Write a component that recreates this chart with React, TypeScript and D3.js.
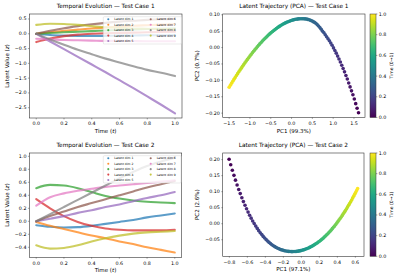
import React from "react";
import * as d3 from "d3";

const W = 400;
const H = 279;
const FONT = "'DejaVu Sans', sans-serif";
const TAB10 = ["#1f77b4", "#ff7f0e", "#2ca02c", "#d62728", "#9467bd", "#8c564b", "#e377c2", "#7f7f7f", "#bcbd22"];
const DIM_LABELS = ["Latent dim 1", "Latent dim 2", "Latent dim 3", "Latent dim 4", "Latent dim 5", "Latent dim 6", "Latent dim 7", "Latent dim 8", "Latent dim 9"];

// ---- time samples of latent curves ----
const TIME_STEPS = [0, 0.1, 0.2, 0.3, 0.4, 0.5, 0.6, 0.7, 0.8, 0.9, 1.0];

// ---- Test case 1 latent dims ----
const TC1_DIM1 = [0, -0.04, -0.06, -0.07, -0.07, -0.07, -0.06, -0.06, -0.05, -0.05, -0.04];
const TC1_DIM2 = [0, 0.05, 0.1, 0.14, 0.18, 0.21, 0.24, 0.27, 0.29, 0.31, 0.32];
const TC1_DIM3 = [0, 0.025, 0.05, 0.07, 0.09, 0.11, 0.13, 0.15, 0.16, 0.17, 0.18];
const TC1_DIM4 = [-0.28, -0.16, -0.08, -0.03, 0.0, 0.02, 0.03, 0.04, 0.05, 0.06, 0.07];
const TC1_DIM5 = [0, -0.26, -0.52, -0.78, -1.04, -1.3, -1.57, -1.84, -2.12, -2.4, -2.69];
const TC1_DIM6 = [0, 0.1, 0.19, 0.26, 0.32, 0.37, 0.41, 0.44, 0.47, 0.49, 0.5];
const TC1_DIM7 = [-0.17, -0.19, -0.21, -0.22, -0.23, -0.24, -0.24, -0.245, -0.25, -0.25, -0.25];
const TC1_DIM8 = [0, -0.19, -0.37, -0.54, -0.69, -0.84, -0.97, -1.1, -1.22, -1.32, -1.43];
const TC1_DIM9 = [0.3, 0.34, 0.33, 0.3, 0.26, 0.22, 0.2, 0.18, 0.17, 0.16, 0.15];

// ---- Test case 2 latent dims ----
const TC2_DIM1 = [-0.06, -0.085, -0.095, -0.09, -0.07, -0.04, -0.01, 0.02, 0.06, 0.09, 0.12];
const TC2_DIM2 = [-0.01, -0.07, -0.12, -0.17, -0.22, -0.26, -0.31, -0.35, -0.4, -0.44, -0.48];
const TC2_DIM3 = [0.51, 0.56, 0.55, 0.51, 0.45, 0.39, 0.35, 0.32, 0.3, 0.29, 0.28];
const TC2_DIM4 = [0.34, 0.2, 0.08, -0.01, -0.07, -0.11, -0.13, -0.14, -0.14, -0.14, -0.13];
const TC2_DIM5 = [0, 0.04, 0.08, 0.13, 0.17, 0.22, 0.26, 0.31, 0.36, 0.4, 0.45];
const TC2_DIM6 = [0, 0.08, 0.15, 0.22, 0.28, 0.34, 0.4, 0.46, 0.52, 0.57, 0.62];
const TC2_DIM7 = [0.24, 0.37, 0.43, 0.47, 0.5, 0.53, 0.55, 0.57, 0.59, 0.61, 0.63];
const TC2_DIM8 = [0, 0.11, 0.22, 0.33, 0.44, 0.55, 0.66, 0.76, 0.85, 0.92, 0.98];
const TC2_DIM9 = [-0.37, -0.42, -0.41, -0.37, -0.31, -0.26, -0.22, -0.19, -0.17, -0.16, -0.15];

// ---- PCA trajectories (100 samples, t from 0 to 1) ----
const TC1_PC1 = [
  1.61, 1.576, 1.542, 1.509, 1.475, 1.441, 1.407, 1.374, 1.34, 1.307,
  1.273, 1.24, 1.207, 1.173, 1.14, 1.107, 1.074, 1.041, 1.008, 0.975,
  0.942, 0.909, 0.876, 0.843, 0.81, 0.778, 0.745, 0.713, 0.68, 0.648,
  0.615, 0.583, 0.55, 0.518, 0.486, 0.454, 0.422, 0.389, 0.357, 0.325,
  0.294, 0.262, 0.23, 0.198, 0.166, 0.135, 0.103, 0.072, 0.04, 0.009,
  -0.023, -0.054, -0.086, -0.117, -0.148, -0.179, -0.21, -0.241, -0.272, -0.303,
  -0.334, -0.365, -0.396, -0.427, -0.457, -0.488, -0.519, -0.549, -0.58, -0.61,
  -0.641, -0.671, -0.701, -0.731, -0.762, -0.792, -0.822, -0.852, -0.882, -0.912,
  -0.942, -0.972, -1.001, -1.031, -1.061, -1.09, -1.12, -1.15, -1.179, -1.208,
  -1.238, -1.267, -1.297, -1.326, -1.355, -1.384, -1.413, -1.442, -1.471, -1.5,
];
const TC1_PC2 = [
  -0.199, -0.185, -0.171, -0.157, -0.144, -0.132, -0.12, -0.108, -0.096, -0.085,
  -0.074, -0.064, -0.054, -0.044, -0.035, -0.026, -0.017, -0.009, -0.001, 0.007,
  0.014, 0.021, 0.027, 0.033, 0.039, 0.045, 0.05, 0.056, 0.061, 0.066,
  0.07, 0.074, 0.077, 0.079, 0.082, 0.083, 0.085, 0.086, 0.087, 0.0875,
  0.088, 0.088, 0.088, 0.0878, 0.0874, 0.0869, 0.0862, 0.0854, 0.0844, 0.0832,
  0.0819, 0.0805, 0.0789, 0.0771, 0.0752, 0.0732, 0.071, 0.0687, 0.0663, 0.0638,
  0.0611, 0.0583, 0.0553, 0.0522, 0.0491, 0.0458, 0.0424, 0.0389, 0.0352, 0.0315,
  0.0277, 0.0237, 0.0197, 0.0155, 0.0113, 0.0069, 0.0025, -0.002, -0.0067, -0.0114,
  -0.0161, -0.021, -0.026, -0.031, -0.0361, -0.0413, -0.0466, -0.0519, -0.0573, -0.0628,
  -0.0683, -0.0739, -0.0796, -0.0853, -0.0911, -0.0969, -0.1028, -0.1088, -0.1148, -0.1209,
];
const TC2_PC1 = [
  -0.803, -0.785, -0.767, -0.749, -0.732, -0.714, -0.696, -0.679, -0.661, -0.644,
  -0.626, -0.609, -0.592, -0.575, -0.558, -0.541, -0.524, -0.507, -0.49, -0.474,
  -0.457, -0.44, -0.424, -0.408, -0.391, -0.375, -0.359, -0.343, -0.327, -0.311,
  -0.295, -0.279, -0.263, -0.248, -0.232, -0.217, -0.201, -0.186, -0.171, -0.155,
  -0.14, -0.125, -0.11, -0.095, -0.08, -0.065, -0.051, -0.036, -0.022, -0.007,
  0.007, 0.022, 0.036, 0.05, 0.064, 0.079, 0.092, 0.106, 0.12, 0.134,
  0.148, 0.161, 0.175, 0.188, 0.202, 0.215, 0.228, 0.242, 0.255, 0.268,
  0.281, 0.294, 0.306, 0.319, 0.332, 0.344, 0.357, 0.369, 0.382, 0.394,
  0.406, 0.418, 0.431, 0.443, 0.455, 0.466, 0.478, 0.49, 0.502, 0.513,
  0.525, 0.536, 0.548, 0.559, 0.57, 0.581, 0.592, 0.603, 0.614, 0.625,
];
const TC2_PC2 = [
  0.201, 0.184, 0.167, 0.151, 0.136, 0.121, 0.107, 0.094, 0.081, 0.069,
  0.0575, 0.0467, 0.0363, 0.0266, 0.0173, 0.0085, 0.0003, -0.0075, -0.0147, -0.0216,
  -0.028, -0.034, -0.0396, -0.0448, -0.0497, -0.0542, -0.0583, -0.0621, -0.0655, -0.0687,
  -0.0716, -0.0741, -0.0764, -0.0785, -0.0803, -0.0818, -0.0832, -0.0843, -0.0852, -0.0859,
  -0.0864, -0.0868, -0.087, -0.087, -0.0869, -0.0866, -0.0862, -0.0856, -0.0849, -0.084,
  -0.083, -0.0818, -0.0805, -0.0791, -0.0775, -0.0758, -0.0739, -0.072, -0.0698, -0.0676,
  -0.0652, -0.0627, -0.0601, -0.0574, -0.0545, -0.0515, -0.0484, -0.0452, -0.0418, -0.0384,
  -0.0348, -0.0311, -0.0274, -0.0235, -0.0195, -0.0154, -0.0112, -0.0069, -0.0025, 0.002,
  0.0066, 0.0113, 0.0161, 0.021, 0.0259, 0.031, 0.0361, 0.0413, 0.0466, 0.0519,
  0.0574, 0.0629, 0.0685, 0.0742, 0.0799, 0.0857, 0.0916, 0.0975, 0.1035, 0.1096,
];

// ---- ticks ----
const TIME_TICKS = [0, 0.2, 0.4, 0.6, 0.8, 1.0];
const TC1_Y_TICKS = [-2.5, -2.0, -1.5, -1.0, -0.5, 0.0, 0.5];
const TC2_Y_TICKS = [-0.4, -0.2, 0.0, 0.2, 0.4, 0.6, 0.8, 1.0];
const PCA1_X_TICKS = [-1.5, -1.0, -0.5, 0.0, 0.5, 1.0, 1.5];
const PCA1_Y_TICKS = [-0.2, -0.15, -0.1, -0.05, 0.0, 0.05, 0.1];
const PCA2_X_TICKS = [-0.8, -0.6, -0.4, -0.2, 0.0, 0.2, 0.4, 0.6];
const PCA2_Y_TICKS = [-0.05, 0.0, 0.05, 0.1, 0.15, 0.2];
const CBAR_TICKS = [0.0, 0.2, 0.4, 0.6, 0.8, 1.0];

const TC1_SERIES = [TC1_DIM1, TC1_DIM2, TC1_DIM3, TC1_DIM4, TC1_DIM5, TC1_DIM6, TC1_DIM7, TC1_DIM8, TC1_DIM9];
const TC2_SERIES = [TC2_DIM1, TC2_DIM2, TC2_DIM3, TC2_DIM4, TC2_DIM5, TC2_DIM6, TC2_DIM7, TC2_DIM8, TC2_DIM9];

type Box = { l: number; r: number; t: number; b: number };

const fmt = (v: number, d: number) => (v < -1e-9 ? "\u2212" : "") + Math.abs(v).toFixed(d);

const TICK_FS = 4.8;
const LABEL_FS = 5.5;
const TITLE_FS = 5.8;
const AXIS_COLOR = "#333";

function Frame(props: {
  box: Box;
  x: d3.ScaleLinear<number, number>;
  y: d3.ScaleLinear<number, number>;
  xTicks: number[];
  yTicks: number[];
  xDec: number;
  yDec: number;
  title: string;
  xLabel: React.ReactNode;
  yLabel: React.ReactNode;
  yLabelOffset: number;
}) {
  const { box, x, y } = props;
  return (
    <g fontFamily={FONT} fill="#000">
      <rect x={box.l} y={box.t} width={box.r - box.l} height={box.b - box.t} fill="none" stroke={AXIS_COLOR} strokeWidth={0.6} />
      {props.xTicks.map((v) => (
        <g key={"x" + v}>
          <line x1={x(v)} x2={x(v)} y1={box.b} y2={box.b + 1.4} stroke={AXIS_COLOR} strokeWidth={0.45} />
          <text x={x(v)} y={box.b + 7.2} fontSize={TICK_FS} textAnchor="middle">{fmt(v, props.xDec)}</text>
        </g>
      ))}
      {props.yTicks.map((v) => (
        <g key={"y" + v}>
          <line x1={box.l - 1.4} x2={box.l} y1={y(v)} y2={y(v)} stroke={AXIS_COLOR} strokeWidth={0.45} />
          <text x={box.l - 2.8} y={y(v)} fontSize={TICK_FS} textAnchor="end" dominantBaseline="central">{fmt(v, props.yDec)}</text>
        </g>
      ))}
      <text x={(box.l + box.r) / 2} y={box.t - 6} fontSize={TITLE_FS} textAnchor="middle">{props.title}</text>
      <text x={(box.l + box.r) / 2} y={box.b + 15} fontSize={LABEL_FS} textAnchor="middle">{props.xLabel}</text>
      <text
        transform={`translate(${box.l - props.yLabelOffset},${(box.t + box.b) / 2}) rotate(-90)`}
        fontSize={LABEL_FS}
        textAnchor="middle"
        dominantBaseline="central"
      >
        {props.yLabel}
      </text>
    </g>
  );
}

function LinePanel(props: { box: Box; yDomain: [number, number]; yTicks: number[]; series: number[][]; title: string; id: string }) {
  const { box } = props;
  const x = d3.scaleLinear().domain([-0.05, 1.05]).range([box.l, box.r]);
  const y = d3.scaleLinear().domain(props.yDomain).range([box.b, box.t]);
  const line = d3
    .line<number>()
    .x((_, i) => x(TIME_STEPS[i]))
    .y((d) => y(d))
    .curve(d3.curveMonotoneX);
  const legL = box.l + 74;
  const legR = box.r - 0.6;
  const legT = box.t + 2.7;
  const rowH = 5.43;
  const col2 = 42.4;
  return (
    <g>
      <defs>
        <clipPath id={props.id}>
          <rect x={box.l} y={box.t} width={box.r - box.l} height={box.b - box.t} />
        </clipPath>
      </defs>
      <g clipPath={`url(#${props.id})`}>
        {props.series.map((s, i) => (
          <path key={i} d={line(s) || ""} fill="none" stroke={TAB10[i]} strokeWidth={2.1} strokeOpacity={0.72} strokeLinecap="round" />
        ))}
      </g>
      <Frame
        box={box}
        x={x}
        y={y}
        xTicks={TIME_TICKS}
        yTicks={props.yTicks}
        xDec={1}
        yDec={1}
        title={props.title}
        xLabel={<>Time (<tspan fontStyle="italic">t</tspan>)</>}
        yLabel={<>Latent Value (<tspan fontStyle="italic">z</tspan>)</>}
        yLabelOffset={22.4}
      />
      <g fontFamily={FONT}>
        <rect x={legL} y={legT} width={legR - legL} height={27.3} rx={1} fill="#fff" fillOpacity={0.8} stroke="#ccc" strokeWidth={0.4} />
        {DIM_LABELS.map((lab, i) => {
          const col = i < 5 ? 0 : 1;
          const row = i < 5 ? i : i - 5;
          const mx = legL + 5 + col * col2;
          const my = legT + 2.6 + row * rowH;
          return (
            <g key={lab}>
              <circle cx={mx} cy={my} r={1.05} fill={TAB10[i]} fillOpacity={0.85} />
              <text x={mx + 6} y={my} fontSize={3.0} dominantBaseline="central" fill="#000">{lab}</text>
            </g>
          );
        })}
      </g>
    </g>
  );
}

function PcaPanel(props: {
  box: Box;
  xDomain: [number, number];
  yDomain: [number, number];
  xTicks: number[];
  yTicks: number[];
  pc1: number[];
  pc2: number[];
  title: string;
  xLabel: string;
  yLabel: string;
  id: string;
}) {
  const { box } = props;
  const x = d3.scaleLinear().domain(props.xDomain).range([box.l, box.r]);
  const y = d3.scaleLinear().domain(props.yDomain).range([box.b, box.t]);
  const n = props.pc1.length;
  const color = d3.scaleSequential(d3.interpolateViridis).domain([0, n - 1]);
  const cbL = 370;
  const cbW = 6;
  const cy = d3.scaleLinear().domain([0, 1]).range([box.b, box.t]);
  const stops = d3.range(0, 1.0001, 0.05);
  return (
    <g>
      <defs>
        <linearGradient id={props.id + "g"} x1="0" y1="1" x2="0" y2="0">
          {stops.map((s) => (
            <stop key={s} offset={s} stopColor={d3.interpolateViridis(s)} />
          ))}
        </linearGradient>
      </defs>
      {props.pc1.map((v, i) => (
        <circle key={i} cx={x(v)} cy={y(props.pc2[i])} r={1.8} fill={color(i)} />
      ))}
      <Frame
        box={box}
        x={x}
        y={y}
        xTicks={props.xTicks}
        yTicks={props.yTicks}
        xDec={1}
        yDec={2}
        title={props.title}
        xLabel={props.xLabel}
        yLabel={props.yLabel}
        yLabelOffset={25.7}
      />
      <g fontFamily={FONT}>
        <rect x={cbL} y={box.t} width={cbW} height={box.b - box.t} fill={`url(#${props.id}g)`} stroke={AXIS_COLOR} strokeWidth={0.5} />
        {CBAR_TICKS.map((v) => (
          <g key={v}>
            <line x1={cbL + cbW} x2={cbL + cbW + 1.4} y1={cy(v)} y2={cy(v)} stroke={AXIS_COLOR} strokeWidth={0.45} />
            <text x={cbL + cbW + 2.8} y={cy(v)} fontSize={TICK_FS} dominantBaseline="central">{fmt(v, 1)}</text>
          </g>
        ))}
        <text
          transform={`translate(${391.7},${(box.t + box.b) / 2}) rotate(-90)`}
          fontSize={4.6}
          textAnchor="middle"
          dominantBaseline="central"
        >
          Time (0→1)
        </text>
      </g>
    </g>
  );
}

export default function App() {
  const TL: Box = { l: 29.3, r: 182, t: 14, b: 118 };
  const BL: Box = { l: 29.3, r: 181.7, t: 153, b: 257.3 };
  const TR: Box = { l: 222.7, r: 365, t: 14, b: 117.5 };
  const BR: Box = { l: 222.7, r: 364, t: 153, b: 256.3 };
  return (
    <div style={{ position: "absolute", left: 0, top: 0 }}>
      <svg width={W} height={H} viewBox={`0 0 ${W} ${H}`} style={{ display: "block", background: "#fff" }}>
        <rect x={0} y={0} width={W} height={H} fill="#fff" />
        <LinePanel box={TL} yDomain={[-2.848, 0.669]} yTicks={TC1_Y_TICKS} series={TC1_SERIES} title="Temporal Evolution — Test Case 1" id="c1" />
        <LinePanel box={BL} yDomain={[-0.554, 1.051]} yTicks={TC2_Y_TICKS} series={TC2_SERIES} title="Temporal Evolution — Test Case 2" id="c2" />
        <PcaPanel
          box={TR}
          xDomain={[-1.6555, 1.7655]}
          yDomain={[-0.2133, 0.1024]}
          xTicks={PCA1_X_TICKS}
          yTicks={PCA1_Y_TICKS}
          pc1={TC1_PC1}
          pc2={TC1_PC2}
          title="Latent Trajectory (PCA) — Test Case 1"
          xLabel="PC1 (99.3%)"
          yLabel="PC2 (0.7%)"
          id="p1"
        />
        <PcaPanel
          box={BR}
          xDomain={[-0.874, 0.696]}
          yDomain={[-0.1017, 0.2207]}
          xTicks={PCA2_X_TICKS}
          yTicks={PCA2_Y_TICKS}
          pc1={TC2_PC1}
          pc2={TC2_PC2}
          title="Latent Trajectory (PCA) — Test Case 2"
          xLabel="PC1 (97.1%)"
          yLabel="PC2 (2.6%)"
          id="p2"
        />
      </svg>
    </div>
  );
}
